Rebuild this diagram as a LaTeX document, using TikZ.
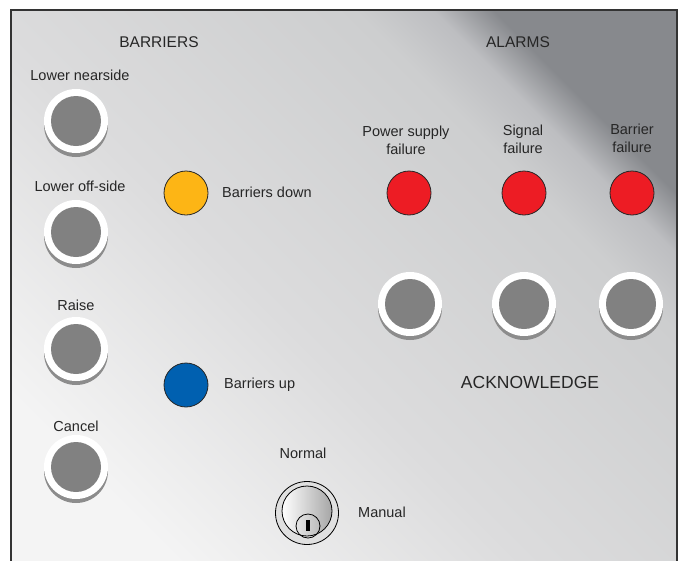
\documentclass[tikz,border=0pt]{standalone}
\usepackage{fontspec}
\setmainfont{Liberation Sans}
\usetikzlibrary{shapes.misc}

\definecolor{panlight}{HTML}{F4F4F4}
\definecolor{panmid}{HTML}{DCDCDD}
\definecolor{panmid2}{HTML}{CDCECF}
\definecolor{panmid3}{HTML}{BDBEC1}
\definecolor{pandark}{HTML}{87898D}
\definecolor{btngray}{HTML}{818181}
\definecolor{shadowgray}{HTML}{8C8C8C}
\definecolor{lampyellow}{HTML}{FDB515}
\definecolor{lampred}{HTML}{ED1C24}
\definecolor{lampblue}{HTML}{0060B0}
\definecolor{rimline}{HTML}{333333}

\pgfdeclareverticalshading{panelshade}{100bp}{color(0bp)=(panlight); color(25bp)=(panlight); color(45bp)=(panmid); color(67bp)=(panmid2); color(71.5bp)=(panmid3); color(75bp)=(pandark); color(100bp)=(pandark)}

\begin{document}
\begin{tikzpicture}[x=1pt,y=-1pt,
	button/.style={circle, minimum size=64pt, inner sep=0pt, fill=white,
		preaction={fill=shadowgray, transform canvas={yshift=-4pt}},
		path picture={\fill[btngray] (path picture bounding box.center) circle (25pt);}},
	lamp/.style={circle, minimum size=44pt, inner sep=0pt, draw=black!85, line width=0.8pt},
	lbl/.style={font=\fontsize{14.5}{18}\selectfont, text=black!85, align=center, inner sep=0pt},
	head/.style={font=\fontsize{15.5}{18}\selectfont, text=black!85, inner sep=0pt}]
	\useasboundingbox (0,0) rectangle (682,560);
	% panel
	\begin{scope}
		\clip (0,0) rectangle (682,560);
		\shade[shading=panelshade, shading angle=-45] (11,10) rectangle (677,580);
		\draw[rimline, line width=2pt] (11,580) -- (11,10) -- (677,10) -- (677,580);
	\end{scope}
	% headings
	\node[head] (hbar) at (159,42) {BARRIERS};
	\node[head] (halm) at (518,42) {ALARMS};
	% barrier buttons
	\node[lbl] (tnear) at (80,75) {Lower nearside};
	\node[button] (bnear) at (76,121) {};
	\node[lbl] (toff) at (80,186) {Lower off-side};
	\node[button] (boff) at (76,232) {};
	\node[lbl] (traise) at (76,305) {Raise};
	\node[button] (braise) at (76,349) {};
	\node[lbl] (tcancel) at (76,426) {Cancel};
	\node[button] (bcancel) at (76,467) {};
	% barrier lamps
	\node[lamp, fill=lampyellow] (ldown) at (186,193) {};
	\node[lbl, anchor=west] (tdown) at (222,192) {Barriers down};
	\node[lamp, fill=lampblue] (lup) at (186,385) {};
	\node[lbl, anchor=west] (tup) at (224,385) {Barriers up};
	% alarms
	\node[lbl] (tpower) at (406,140) {Power supply\\failure};
	\node[lbl] (tsignal) at (523,139) {Signal\\failure};
	\node[lbl] (tbarrier) at (632,138) {Barrier\\failure};
	\node[lamp, fill=lampred] (lpower) at (409,193) {};
	\node[lamp, fill=lampred] (lsignal) at (524,193) {};
	\node[lamp, fill=lampred] (lbarrier) at (632,193) {};
	\node[button] (apower) at (410,304) {};
	\node[button] (asignal) at (524,304) {};
	\node[button] (abarrier) at (631,304) {};
	\node[lbl, font=\fontsize{17.5}{20}\selectfont] (tack) at (530,382) {ACKNOWLEDGE};
	% key switch
	\node[lbl] (tnormal) at (303,453) {Normal};
	\node[lbl, anchor=west] (tmanual) at (358,512) {Manual};
	\draw[black, line width=0.8pt, fill=white!88!black] (307,513) circle (31.5pt);
	\shade[left color=white, right color=black!35, draw=black, line width=0.8pt] (307,511) circle (25pt);
	\draw[black, line width=0.8pt] (308,526) circle (12pt);
	\fill[black] (306.3,519.5) rectangle (309.7,531);
\end{tikzpicture}
\end{document}
